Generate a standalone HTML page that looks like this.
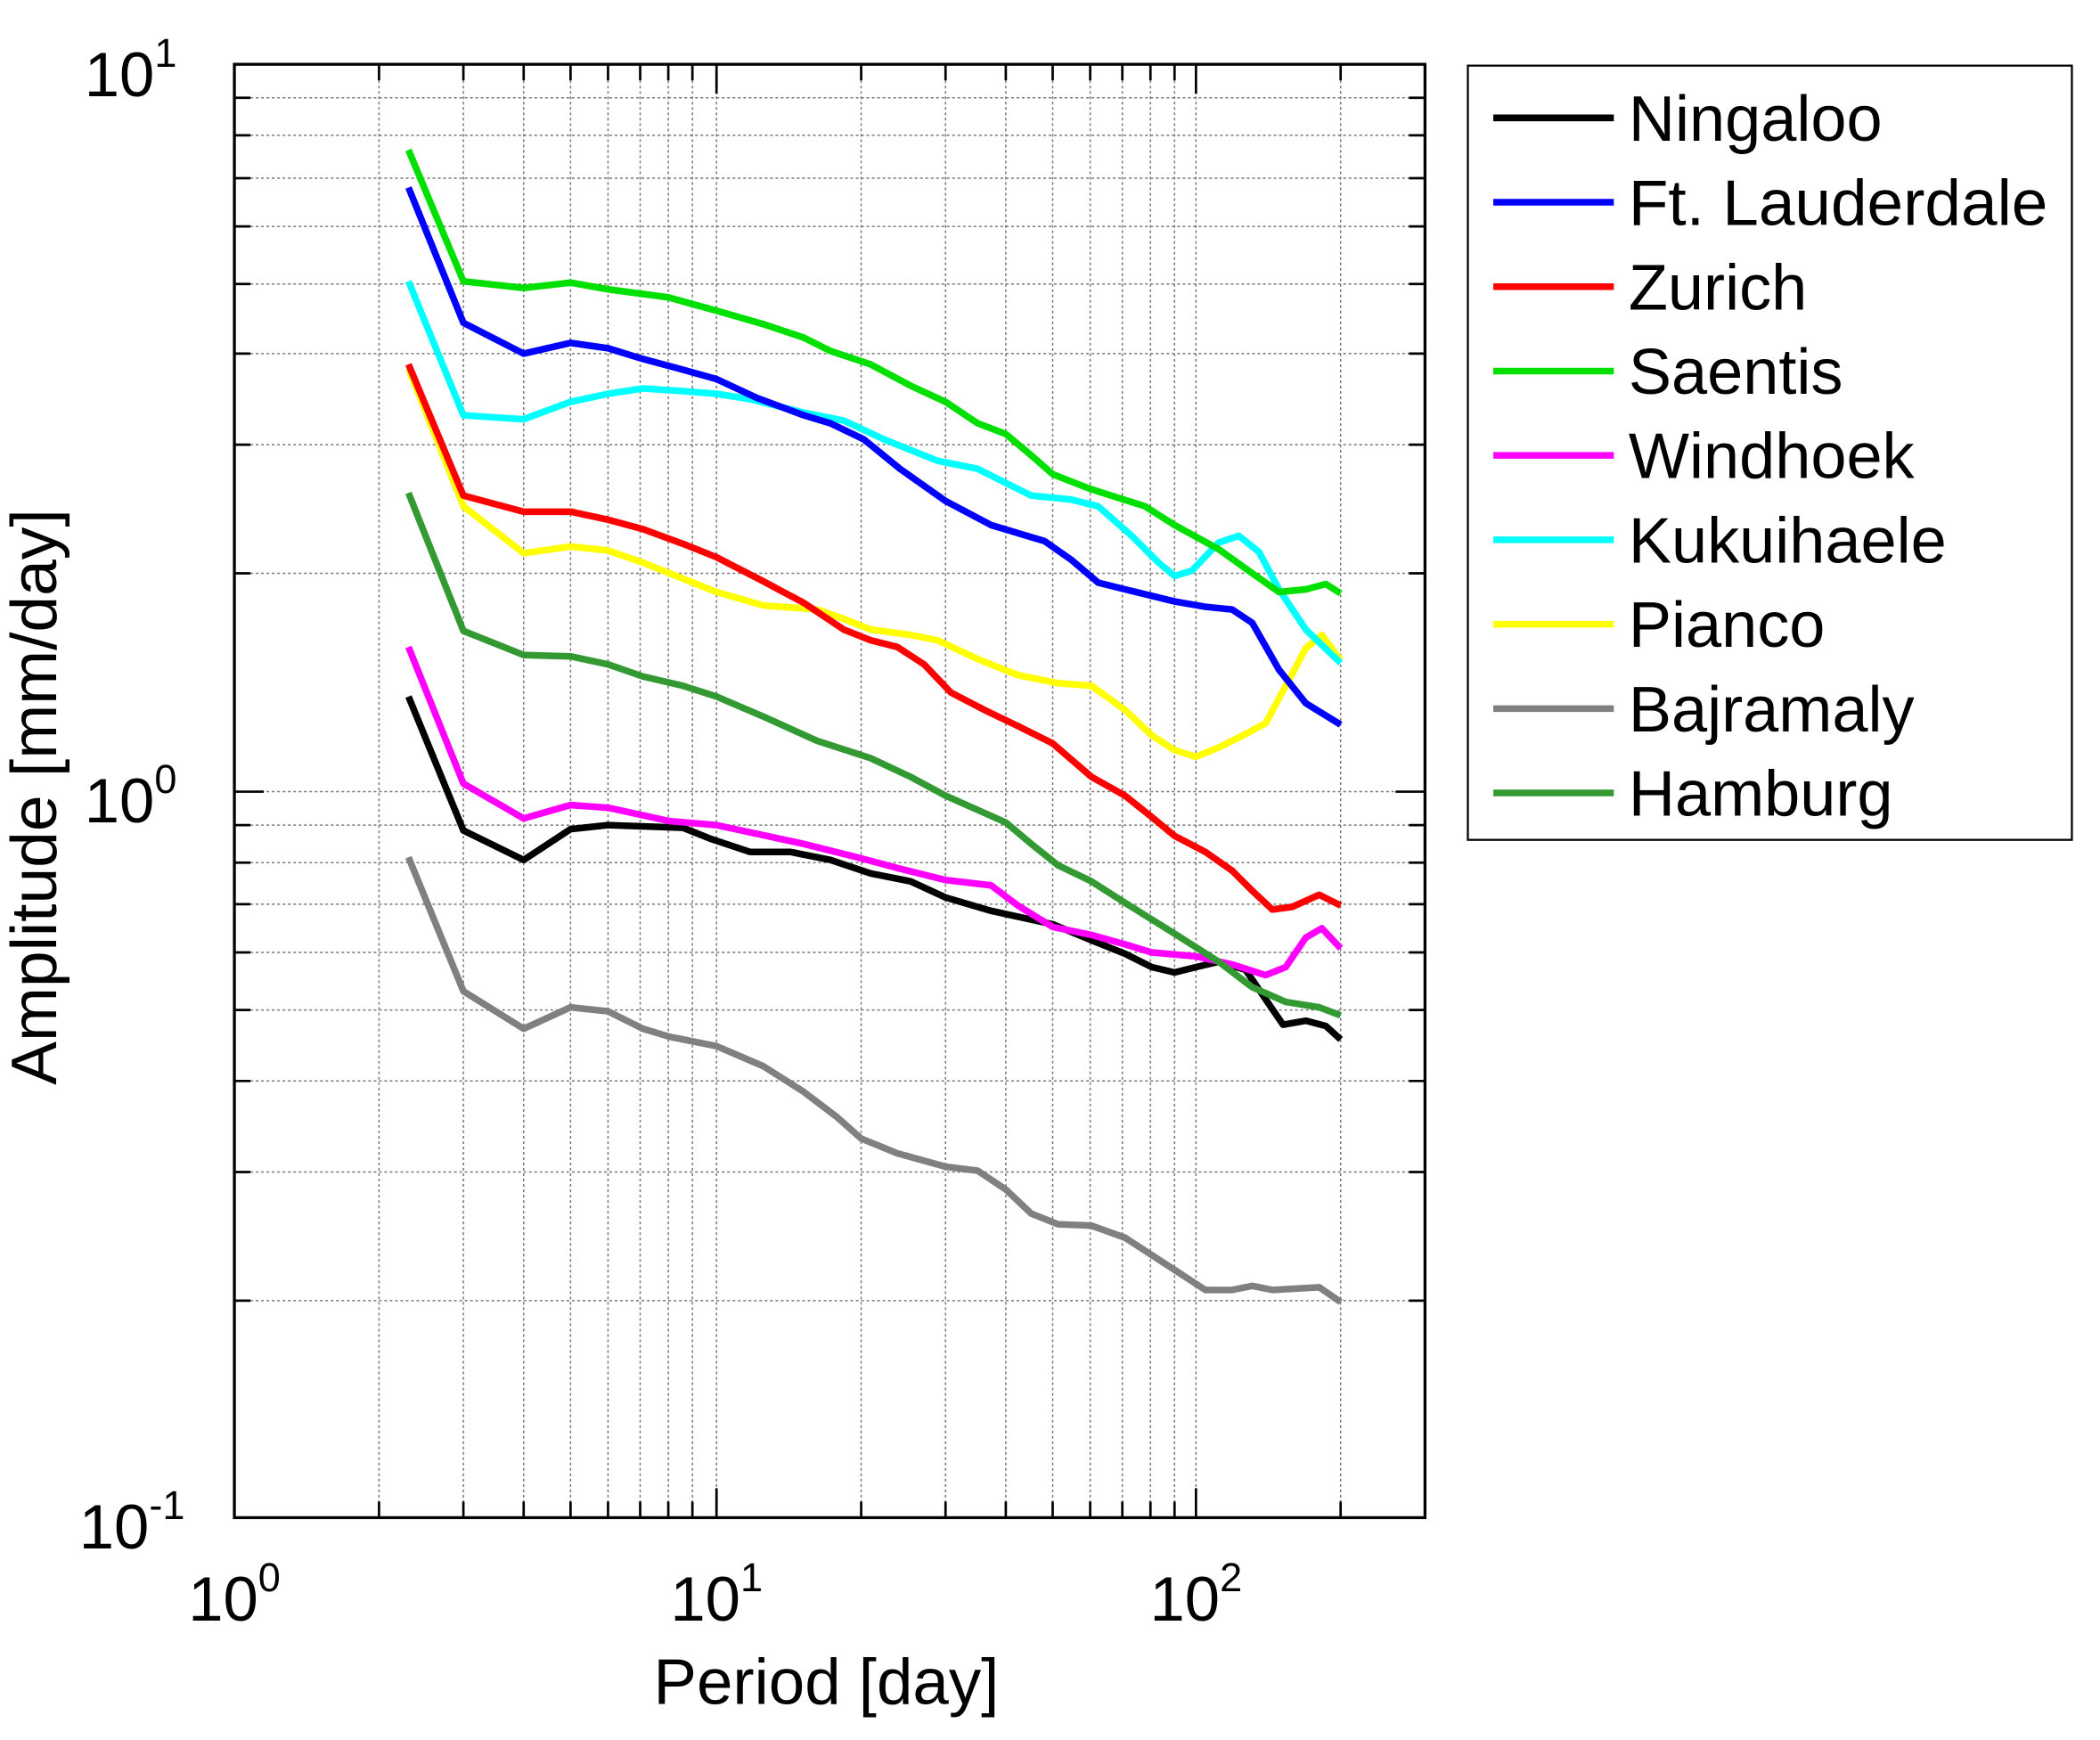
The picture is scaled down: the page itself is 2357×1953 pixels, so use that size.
<!DOCTYPE html>
<html><head><meta charset="utf-8"><style>html,body{margin:0;padding:0;background:#fff}svg{display:block}</style></head><body>
<svg xmlns="http://www.w3.org/2000/svg" width="2357" height="1953" viewBox="0 0 1568 1299" preserveAspectRatio="none" font-family="Liberation Sans, sans-serif">
<rect width="1568" height="1299" fill="#fff"/>
<g stroke="#777" stroke-width="1" stroke-dasharray="2,2">
<path d="M283 48V1133M346 48V1133M391 48V1133M426 48V1133M454 48V1133M478 48V1133M499 48V1133M517 48V1133M535 48V1133M643 48V1133M706 48V1133M751 48V1133M786 48V1133M814 48V1133M838 48V1133M859 48V1133M877 48V1133M893 48V1133M1001 48V1133"/>
<path d="M175 73H1064M175 101H1064M175 133H1064M175 169H1064M175 212H1064M175 264H1064M175 332H1064M175 428H1064M175 591H1064M175 616H1064M175 644H1064M175 675H1064M175 711H1064M175 754H1064M175 807H1064M175 875H1064M175 971H1064"/>
</g>
<g stroke="#000" stroke-width="1.8">
<path d="M283 1133v-12M346 1133v-12M391 1133v-12M426 1133v-12M454 1133v-12M478 1133v-12M499 1133v-12M517 1133v-12M643 1133v-12M706 1133v-12M751 1133v-12M786 1133v-12M814 1133v-12M838 1133v-12M859 1133v-12M877 1133v-12M1001 1133v-12M535 1133v-22M893 1133v-22"/>
<path d="M283 48v12M346 48v12M391 48v12M426 48v12M454 48v12M478 48v12M499 48v12M517 48v12M643 48v12M706 48v12M751 48v12M786 48v12M814 48v12M838 48v12M859 48v12M877 48v12M1001 48v12M535 48v22M893 48v22"/>
<path d="M175 73h12M175 101h12M175 133h12M175 169h12M175 212h12M175 264h12M175 332h12M175 428h12M175 616h12M175 644h12M175 675h12M175 711h12M175 754h12M175 807h12M175 875h12M175 971h12M175 591h22"/>
<path d="M1064 73h-12M1064 101h-12M1064 133h-12M1064 169h-12M1064 212h-12M1064 264h-12M1064 332h-12M1064 428h-12M1064 616h-12M1064 644h-12M1064 675h-12M1064 711h-12M1064 754h-12M1064 807h-12M1064 875h-12M1064 971h-12M1064 591h-22"/>
</g>
<rect x="175" y="48" width="889" height="1085" fill="none" stroke="#000" stroke-width="2.2"/>
<g fill="none" stroke-width="5" stroke-linejoin="round">
<polyline stroke="#808080" points="305,640 346,740 391,768 426,752 454,755 480,768 500,774 535,781 570,796 600,815 625,834 643,850 670,861 706,871 730,874 751,888 770,906 790,914 815,915 840,924 877,948 900,963 920,963 935,960 950,963 985,961 1001,972"/>
<polyline stroke="#000" points="305,520 346,620 391,642 426,619 454,616 510,618 530,626 560,636 590,636 620,642 650,652 680,658 706,670 740,680 786,690 815,702 840,712 860,722 877,726 893,722 910,718 930,724 945,746 958,765 975,762 990,766 1001,776"/>
<polyline stroke="#ff00ff" points="305,483 346,585 391,611 426,601 454,603 500,613 535,616 600,630 640,640 670,648 706,657 740,661 760,676 786,692 815,698 840,705 860,711 893,714 920,720 945,728 960,722 975,700 987,693 1001,708"/>
<polyline stroke="#339933" points="305,368 346,471 391,489 426,490 454,496 480,505 510,512 535,520 570,535 610,553 650,566 680,580 706,594 751,614 770,630 790,646 815,658 840,674 877,697 910,718 935,737 960,748 985,752 1001,758"/>
<polyline stroke="#ffff00" points="305,275 346,378 391,413 426,408 454,411 480,420 510,432 535,442 570,452 610,455 630,462 650,470 680,474 700,478 730,492 760,504 790,510 815,512 840,530 860,549 877,560 893,565 910,558 930,548 945,540 960,512 975,484 987,474 1001,493"/>
<polyline stroke="#ff0000" points="305,272 346,370 391,382 426,382 454,388 480,395 510,406 535,416 570,434 600,450 630,470 650,478 670,483 690,496 710,517 735,530 760,542 786,555 815,580 840,594 860,610 877,624 900,636 920,650 935,665 950,679 965,677 985,668 1001,676"/>
<polyline stroke="#00ffff" points="305,210 346,310 391,313 426,300 454,294 480,290 510,292 535,294 560,298 600,308 630,314 660,328 700,344 730,350 770,370 800,373 820,378 845,400 865,420 877,430 890,426 910,405 925,400 940,412 955,440 975,470 1001,495"/>
<polyline stroke="#0000ff" points="305,140 346,241 391,264 426,256 454,260 480,268 510,276 535,283 565,297 600,310 620,316 645,328 672,350 706,374 740,392 780,404 800,418 820,435 840,440 877,449 900,453 920,455 935,465 955,500 975,525 1001,541"/>
<polyline stroke="#00e000" points="305,112 346,210 391,215 426,211 454,216 499,222 535,232 570,242 600,252 620,262 650,272 680,288 706,300 730,316 751,324 770,340 786,354 814,365 855,378 877,392 910,410 935,428 955,442 975,440 990,436 1001,443"/>
</g>
<g font-size="47" fill="#000">
<text x="132" y="72" text-anchor="end">10<tspan font-size="30" dy="-22">1</tspan></text>
<text x="132" y="614" text-anchor="end">10<tspan font-size="30" dy="-22">0</tspan></text>
<text x="138" y="1156" text-anchor="end">10<tspan font-size="30" dy="-22">-1</tspan></text>
<text x="175" y="1210" text-anchor="middle">10<tspan font-size="30" dy="-22">0</tspan></text>
<text x="535" y="1210" text-anchor="middle">10<tspan font-size="30" dy="-22">1</tspan></text>
<text x="893" y="1210" text-anchor="middle">10<tspan font-size="30" dy="-22">2</tspan></text>
<text x="617" y="1272" text-anchor="middle" font-size="48" textLength="258" lengthAdjust="spacingAndGlyphs">Period [day]</text>
<text transform="translate(58,595) rotate(-90)" text-anchor="middle" font-size="48" textLength="430" lengthAdjust="spacingAndGlyphs" dy="-16">Amplitude [mm/day]</text>
</g>
<rect x="1096" y="49" width="451" height="578" fill="#fff" stroke="#000" stroke-width="1.5"/>
<g stroke-width="5">
<line x1="1115" x2="1205" y1="88" y2="88" stroke="#000"/>
<line x1="1115" x2="1205" y1="151" y2="151" stroke="#0000ff"/>
<line x1="1115" x2="1205" y1="214" y2="214" stroke="#ff0000"/>
<line x1="1115" x2="1205" y1="277" y2="277" stroke="#00e000"/>
<line x1="1115" x2="1205" y1="340" y2="340" stroke="#ff00ff"/>
<line x1="1115" x2="1205" y1="403" y2="403" stroke="#00ffff"/>
<line x1="1115" x2="1205" y1="466" y2="466" stroke="#ffff00"/>
<line x1="1115" x2="1205" y1="529" y2="529" stroke="#808080"/>
<line x1="1115" x2="1205" y1="592" y2="592" stroke="#339933"/>
</g>
<g font-size="48" fill="#000">
<text x="1216" y="105">Ningaloo</text>
<text x="1216" y="168" textLength="313" lengthAdjust="spacingAndGlyphs">Ft. Lauderdale</text>
<text x="1216" y="231">Zurich</text>
<text x="1216" y="294">Saentis</text>
<text x="1216" y="357">Windhoek</text>
<text x="1216" y="420">Kukuihaele</text>
<text x="1216" y="483">Pianco</text>
<text x="1216" y="546">Bajramaly</text>
<text x="1216" y="609">Hamburg</text>
</g>
</svg>
</body></html>
